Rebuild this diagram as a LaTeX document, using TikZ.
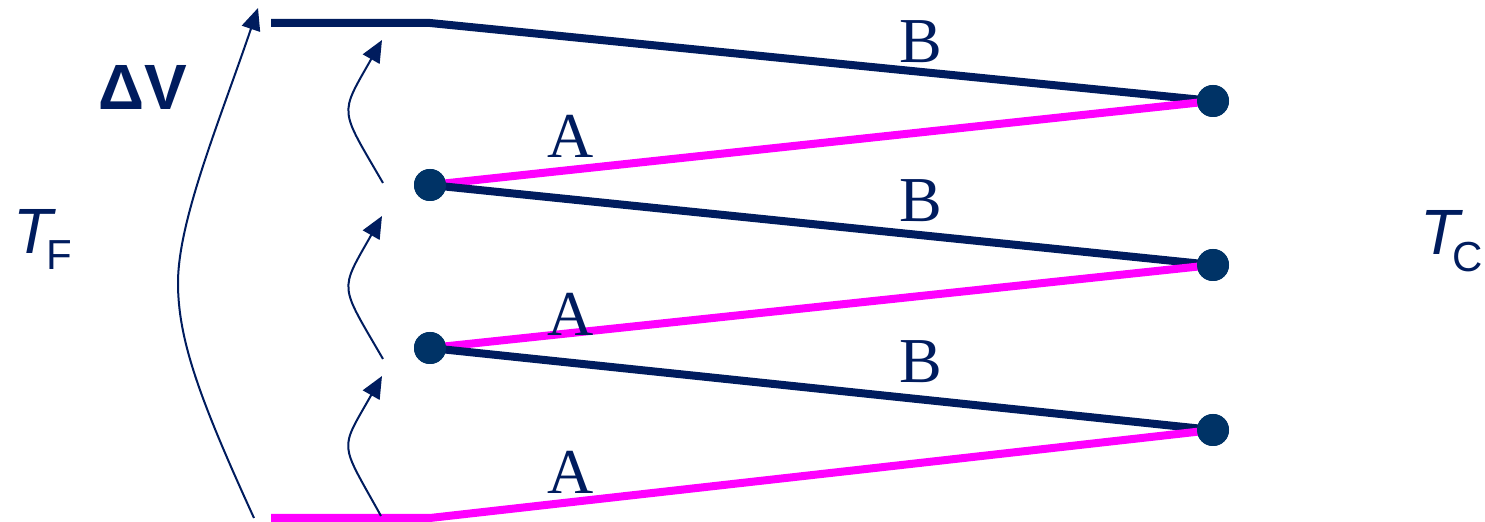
\documentclass[tikz,border=0pt]{standalone}
\usepackage{fontspec}
\setmainfont{Liberation Serif}
\setsansfont{Liberation Sans}
\usetikzlibrary{arrows.meta}
\definecolor{navy}{RGB}{0,28,94}
\definecolor{dotblue}{RGB}{0,51,102}
\definecolor{mag}{RGB}{255,0,255}
\begin{document}
\begin{tikzpicture}[x=0.5pt,y=-0.5pt,
  dot/.style={circle,fill=dotblue,inner sep=0,minimum size=16pt},
  bline/.style={navy,line width=4pt},
  aline/.style={mag,line width=4pt},
  lbl/.style={navy,font=\fontsize{32}{32}\selectfont,anchor=base west,inner sep=0},
  tlbl/.style={navy,anchor=base west,inner sep=0,font=\sffamily\fontsize{32}{32}\selectfont},
  jump/.style={navy,line width=1pt,-{Triangle[length=11pt,width=9.5pt]}},
]
\useasboundingbox (0,0) rectangle (1485,522);
% dots
\node[dot] (L1) at (430,185) {};
\node[dot] (L2) at (430,348) {};
\node[dot] (R1) at (1213,101) {};
\node[dot] (R2) at (1213,265) {};
\node[dot] (R3) at (1213,430) {};
\coordinate (T0) at (271,23);
\coordinate (T1) at (430,23);
\coordinate (B0) at (271,518);
\coordinate (B1) at (430,518);
% zig-zag of legs, in drawing order
\draw[bline] (T0) -- (T1) -- (R1.center);
\draw[aline] (L1.center) -- (R1.center);
\draw[bline] (L1.center) -- (R2.center);
\draw[aline] (L2.center) -- (R2.center);
\draw[bline] (L2.center) -- (R3.center);
\draw[aline] (B0) -- (B1) -- (R3.center);
% dots on top
\foreach \d in {L1,L2,R1,R2,R3} \fill[dotblue] (\d.center) circle[radius=8pt];
% labels
\node[lbl] (b1) at (899,63) {B};
\node[lbl] (b2) at (899,222) {B};
\node[lbl] (b3) at (899,383) {B};
\node[lbl] (a1) at (547,158) {A};
\node[lbl] (a2) at (547,336) {A};
\node[lbl] (a3) at (547,494) {A};
\node[tlbl,font=\sffamily\bfseries\fontsize{32}{32}\selectfont] (dv) at (98,110) {ΔV};
\node[tlbl] (tf) at (13,254) {\itshape T\upshape\kern-3pt\fontsize{21}{21}\selectfont\raisebox{-8pt}{F}};
\node[tlbl] (tc) at (1420,255) {\itshape T\upshape\kern-3.5pt\fontsize{21}{21}\selectfont\raisebox{-8.5pt}{C}};
% arrows
\coordinate (bigs) at (254,518);
\coordinate (bigm) at (178,283);
\coordinate (bige) at (258,8);
\draw[jump] (bigs) .. controls (200,400) and (178,340) .. (bigm)
  .. controls (178,220) and (220,120) .. (bige);
\coordinate (s1) at (383,183);
\coordinate (e1) at (382,40);
\draw[jump] (s1) .. controls (339,107) and (339,116) .. (e1);
\coordinate (s2) at (383,359);
\coordinate (e2) at (382,216);
\draw[jump] (s2) .. controls (339,283) and (339,292) .. (e2);
\coordinate (s3) at (381,516);
\coordinate (e3) at (382,376);
\draw[jump] (s3) .. controls (339,440) and (339,452) .. (e3);
\end{tikzpicture}
\end{document}
